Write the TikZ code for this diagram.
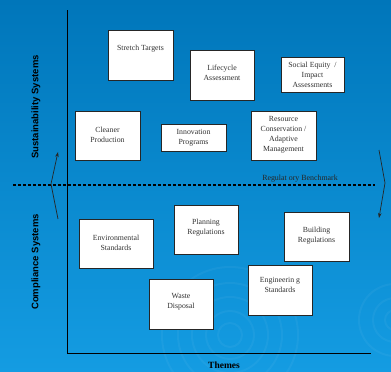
\documentclass[tikz,border=0pt]{standalone}
\usepackage{fontspec}
\setmainfont{Liberation Serif}
\newfontfamily\axisfont{Liberation Sans}
\usetikzlibrary{arrows.meta}
\definecolor{bgtop}{RGB}{0,118,186}
\definecolor{bgbot}{RGB}{20,156,226}
\definecolor{boxtext}{RGB}{50,50,50}
\begin{document}
\begin{tikzpicture}[x=1pt,y=-1pt,
  themebox/.style={draw=black!85,line width=0.8pt,fill=white,inner sep=0pt},
  boxtxt/.style={font=\fontsize{7.8}{10}\selectfont,text=boxtext,align=center,inner sep=0pt},
  axislabel/.style={font=\axisfont\bfseries\fontsize{9.5}{11}\selectfont,text=black,rotate=90},
  axisline/.style={line width=0.8pt,draw=black},
  trend/.style={line width=0.7pt,draw=black!85,-{Stealth[length=5pt,width=3.5pt]}}]
\useasboundingbox (0,0) rectangle (391,372);
\shade[top color=bgtop,bottom color=bgbot] (0,0) rectangle (391,372);
% faint ripples
\foreach \r in {12,24,38,52,68}{
  \draw[white,opacity=0.045,line width=2pt] (230,335) circle[radius=\r];}
\foreach \r in {10,22,36}{
  \draw[white,opacity=0.045,line width=2pt] (395,320) circle[radius=\r];}
% axes
\coordinate (ytop) at (67.5,10);
\coordinate (origin) at (67.5,353);
\coordinate (xend) at (371,353);
\draw[axisline] (ytop) -- (origin) -- (xend);
% benchmark
\coordinate (bl) at (13,185);
\coordinate (br) at (375,185);
\draw[line width=1.4pt,dash pattern=on 3pt off 2pt] (bl) -- (br);
\node[font=\fontsize{7.9}{9}\selectfont,text=black!85] (bench) at (300,179) {Regulat ory Benchmark};
% arrows
\coordinate (la) at (58,219); \coordinate (lm) at (51,184); \coordinate (lt) at (58,152);
\draw[trend] (la) -- (lm) -- (lt);
\coordinate (ra) at (379,150); \coordinate (rm) at (385,183); \coordinate (rt) at (379,218);
\draw[trend] (ra) -- (rm) -- (rt);
% axis labels
\node[axislabel] (sus) at (36,107) {Sustainability Systems};
\node[axislabel] (comp) at (36,262) {Compliance Systems};
\node[font=\bfseries\fontsize{9.5}{10}\selectfont,text=black,inner sep=0pt] (themes) at (224,365.5) {Themes};
% boxes
\node[themebox,minimum width=65pt,minimum height=50pt,
  label={[boxtxt,yshift=6pt]center:{Stretch Targets}}] (stretch) at (140.5,55) {};
\node[themebox,minimum width=64pt,minimum height=50pt,
  label={[boxtxt,yshift=2pt]center:{Lifecycle\\Assessment}}] (life) at (222,75) {};
\node[themebox,minimum width=63pt,minimum height=35pt,
  label={[boxtxt]center:{Social Equity \ /\\Impact\\Assessments}}] (social) at (312.5,74.5) {};
\node[themebox,minimum width=65pt,minimum height=49pt,
  label={[boxtxt,yshift=1pt]center:{Cleaner\\Production}}] (cleaner) at (107.5,135.5) {};
\node[themebox,minimum width=65pt,minimum height=27pt,
  label={[boxtxt]center:{Innovation\\Programs}}] (innov) at (193.5,137.5) {};
\node[themebox,minimum width=65pt,minimum height=49pt,
  label={[boxtxt,yshift=1pt]center:{Resource\\Conservation /\\Adaptive\\Management}}] (resource) at (283.5,135.5) {};
\node[themebox,minimum width=74pt,minimum height=49pt,
  label={[boxtxt,yshift=1pt]center:{Environmental\\Standards}}] (env) at (116,243.5) {};
\node[themebox,minimum width=64pt,minimum height=49pt,
  label={[boxtxt,yshift=1.5pt]center:{Planning\\Regulations}}] (plan) at (206,229.5) {};
\node[themebox,minimum width=65pt,minimum height=49pt,
  label={[boxtxt,yshift=1pt]center:{Building\\Regulations}}] (build) at (316.5,236.5) {};
\node[themebox,minimum width=64pt,minimum height=50pt,
  label={[boxtxt,yshift=5pt]center:{Engineerin g\\Standards}}] (eng) at (280,290) {};
\node[themebox,minimum width=64pt,minimum height=50pt,
  label={[boxtxt,yshift=2pt]center:{Waste\\Disposal}}] (waste) at (181,304) {};
\end{tikzpicture}
\end{document}
